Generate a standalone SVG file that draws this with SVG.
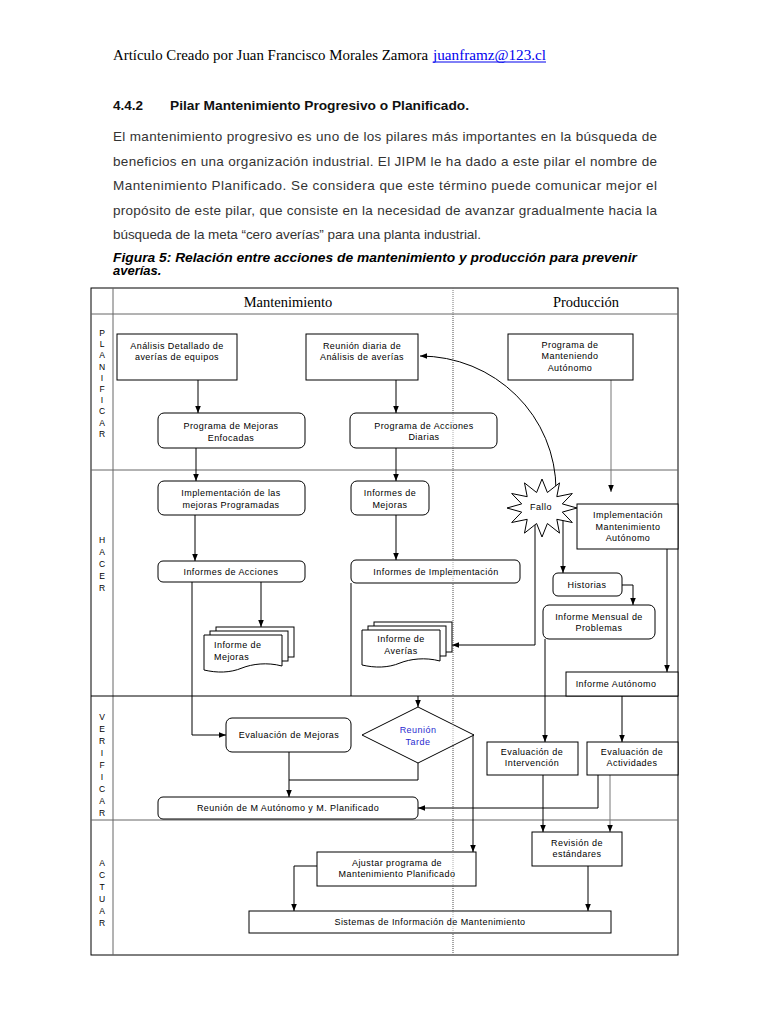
<svg xmlns="http://www.w3.org/2000/svg" width="768" height="1024" viewBox="0 0 768 1024">
<style>
.hdr{font-family:"Liberation Serif","Times New Roman",serif;font-size:15px;fill:#000}
.link{font-family:"Liberation Serif","Times New Roman",serif;font-size:15px;fill:#0000ee}
.para{font-family:"Liberation Sans",Arial,sans-serif;font-size:13.5px;fill:#333}
.h2{font-family:"Liberation Sans",Arial,sans-serif;font-size:13.5px;font-weight:bold;fill:#111}
.fig{font-family:"Liberation Sans",Arial,sans-serif;font-size:13px;font-weight:bold;font-style:italic;fill:#000}
.lane{font-family:"Liberation Serif","Times New Roman",serif;font-size:14.5px;fill:#000;text-anchor:middle}
.side{font-family:"Liberation Sans",Arial,sans-serif;font-size:8.5px;fill:#000;text-anchor:middle}
.t{font-family:"Liberation Sans",Arial,sans-serif;font-size:9px;letter-spacing:0.45px;fill:#000;text-anchor:middle}
.tl{font-family:"Liberation Sans",Arial,sans-serif;font-size:9px;letter-spacing:0.45px;fill:#000}
.blue{fill:#2a2ad0}
.box{fill:#fff;stroke:#000;stroke-width:1}
.grid{fill:none;stroke:#000;stroke-width:1}
.grid2{fill:none;stroke:#666;stroke-width:1}
.dot{fill:none;stroke:#777;stroke-width:1;stroke-dasharray:1,1}
.c{fill:none;stroke:#000;stroke-width:1}
.ca{fill:none;stroke:#000;stroke-width:1;marker-end:url(#ah)}
.cg{fill:none;stroke:#777;stroke-width:1;marker-end:url(#ah)}
</style>
<defs>
<marker id="ah" viewBox="0 0 10 10" refX="10" refY="5" markerWidth="7" markerHeight="7" orient="auto" markerUnits="userSpaceOnUse">
<path d="M0,1 L10,5 L0,9 z" fill="#000"/>
</marker>
</defs>
<rect width="768" height="1024" fill="#fff"/>

<g id="page-text">
<text class="hdr" x="113" y="60" textLength="315" lengthAdjust="spacingAndGlyphs">Artículo Creado por Juan Francisco Morales Zamora</text>
<text class="link" x="433" y="60" textLength="113" lengthAdjust="spacingAndGlyphs">juanframz@123.cl</text>
<line x1="433" y1="62" x2="546" y2="62" stroke="#0000ee" stroke-width="1"/>
<text class="h2" x="113" y="110">4.4.2</text>
<text class="h2" x="170" y="110" textLength="299" lengthAdjust="spacingAndGlyphs">Pilar Mantenimiento Progresivo o Planificado.</text>
<text class="para" x="113" y="141" textLength="544" lengthAdjust="spacing">El mantenimiento progresivo es uno de los pilares más importantes en la búsqueda de</text>
<text class="para" x="113" y="166" textLength="544" lengthAdjust="spacing">beneficios en una organización industrial. El JIPM le ha dado a este pilar el nombre de</text>
<text class="para" x="113" y="190" textLength="544" lengthAdjust="spacing">Mantenimiento Planificado. Se considera que este término puede comunicar mejor el</text>
<text class="para" x="113" y="215" textLength="544" lengthAdjust="spacing">propósito de este pilar, que consiste en la necesidad de avanzar gradualmente hacia la</text>
<text class="para" x="113" y="239" textLength="368" lengthAdjust="spacing">búsqueda de la meta “cero averías” para una planta industrial.</text>
<text class="fig" x="113" y="262" textLength="524" lengthAdjust="spacingAndGlyphs">Figura 5: Relación entre acciones de mantenimiento y producción para prevenir</text>
<text class="fig" x="113" y="275">averías.</text>
</g>

<g id="lanes">
<rect class="grid" x="91" y="288" width="587" height="667"/>
<line class="grid2" x1="113" y1="288" x2="113" y2="955"/>
<line class="grid2" x1="91" y1="314" x2="678" y2="314"/>
<line class="grid2" x1="91" y1="470" x2="678" y2="470"/>
<line class="grid" x1="91" y1="696" x2="678" y2="696"/>
<line class="grid2" x1="91" y1="820" x2="678" y2="820"/>
<line class="dot" x1="453" y1="288" x2="453" y2="955"/>
<text class="lane" x="288" y="307">Mantenimiento</text>
<text class="lane" x="586" y="307">Producción</text>
<text class="side"><tspan x="102" y="336">P</tspan><tspan x="102" dy="11.2">L</tspan><tspan x="102" dy="11.2">A</tspan><tspan x="102" dy="11.2">N</tspan><tspan x="102" dy="11.2">I</tspan><tspan x="102" dy="11.2">F</tspan><tspan x="102" dy="11.2">I</tspan><tspan x="102" dy="11.2">C</tspan><tspan x="102" dy="11.2">A</tspan><tspan x="102" dy="11.2">R</tspan></text>
<text class="side"><tspan x="102" y="543">H</tspan><tspan x="102" dy="12">A</tspan><tspan x="102" dy="12">C</tspan><tspan x="102" dy="12">E</tspan><tspan x="102" dy="12">R</tspan></text>
<text class="side"><tspan x="102" y="720">V</tspan><tspan x="102" dy="12">E</tspan><tspan x="102" dy="12">R</tspan><tspan x="102" dy="12">I</tspan><tspan x="102" dy="12">F</tspan><tspan x="102" dy="12">I</tspan><tspan x="102" dy="12">C</tspan><tspan x="102" dy="12">A</tspan><tspan x="102" dy="12">R</tspan></text>
<text class="side"><tspan x="102" y="866">A</tspan><tspan x="102" dy="12">C</tspan><tspan x="102" dy="12">T</tspan><tspan x="102" dy="12">U</tspan><tspan x="102" dy="12">A</tspan><tspan x="102" dy="12">R</tspan></text>
</g>

<g id="connectors">
<path class="ca" d="M198,380 V413"/>
<path class="ca" d="M396,380 V413"/>
<path class="cg" d="M611,380 V492"/>
<path class="ca" d="M556,490 A136,134 0 0 0 420,356"/>
<path class="ca" d="M196,448 V481"/>
<path class="ca" d="M396,448 V481"/>
<path class="ca" d="M195,515 V561"/>
<path class="ca" d="M396,515 V560"/>
<path class="ca" d="M261,582 V627"/>
<path class="ca" d="M192,582 V735 H226"/>
<path class="c" d="M351,583 V696"/>
<path class="ca" d="M418,696 V707"/>
<path class="ca" d="M535,525 V645 H452"/>
<path class="ca" d="M563,518 V573"/>
<path class="ca" d="M622,585 H633 V605"/>
<path class="ca" d="M667,549 V672"/>
<path class="ca" d="M545,639 V742"/>
<path class="ca" d="M622,696 V742"/>
<path class="ca" d="M289,752 V797"/>
<path class="c" d="M418,763 V780 H289"/>
<path class="ca" d="M598,775 V808 H418"/>
<path class="ca" d="M474,735 H473 V852"/>
<path class="ca" d="M543,775 V832"/>
<path class="cg" d="M610,775 V832"/>
<path class="ca" d="M317,866 H294 V911"/>
<path class="ca" d="M588,866 V911"/>
</g>

<g id="n-analisis">
<rect class="box" x="117" y="334" width="120" height="46"/>
<text class="t" x="177" y="349">Análisis Detallado de</text>
<text class="t" x="177" y="360">averías de equipos</text>
</g>
<g id="n-reunion-diaria">
<rect class="box" x="306" y="334" width="112" height="46"/>
<text class="t" x="362" y="349">Reunión diaria de</text>
<text class="t" x="362" y="360">Análisis de averías</text>
</g>
<g id="n-programa-ma">
<rect class="box" x="508" y="334" width="125" height="46"/>
<text class="t" x="570" y="348">Programa de</text>
<text class="t" x="570" y="359">Manteniendo</text>
<text class="t" x="570" y="371">Autónomo</text>
</g>
<g id="n-mejoras-enfocadas">
<rect class="box" x="158" y="413" width="147" height="35" rx="6"/>
<text class="t" x="231" y="429">Programa de Mejoras</text>
<text class="t" x="231" y="441">Enfocadas</text>
</g>
<g id="n-acciones-diarias">
<rect class="box" x="350" y="413" width="147" height="35" rx="6"/>
<text class="t" x="424" y="429">Programa de Acciones</text>
<text class="t" x="424" y="440">Diarias</text>
</g>
<g id="n-implementacion">
<rect class="box" x="158" y="481" width="147" height="34" rx="6"/>
<text class="t" x="231" y="496">Implementación de las</text>
<text class="t" x="231" y="508">mejoras Programadas</text>
</g>
<g id="n-informes-mejoras">
<rect class="box" x="351" y="481" width="78" height="34" rx="6"/>
<text class="t" x="390" y="496">Informes de</text>
<text class="t" x="390" y="508">Mejoras</text>
</g>
<g id="n-informes-acciones">
<rect class="box" x="158" y="561" width="147" height="21" rx="5"/>
<text class="t" x="231" y="575">Informes de Acciones</text>
</g>
<g id="n-informes-implementacion">
<rect class="box" x="351" y="560" width="169" height="23" rx="5"/>
<text class="t" x="436" y="575">Informes de Implementación</text>
</g>
<g id="n-doc-mejoras">
<rect class="box" x="216" y="627" width="78" height="30"/>
<rect class="box" x="210" y="631" width="78" height="30"/>
<path class="box" d="M204,635 H282 V666 C267,662 252,664 242,668 C230,673 217,673 204,670 Z"/>
<text class="tl" x="214" y="648">Informe de</text>
<text class="tl" x="214" y="660">Mejoras</text>
</g>
<g id="n-doc-averias">
<rect class="box" x="374" y="622" width="78" height="30"/>
<rect class="box" x="368" y="626" width="78" height="30"/>
<path class="box" d="M362,630 H440 V661 C425,657 410,659 400,663 C388,668 375,668 362,665 Z"/>
<text class="t" x="401" y="642">Informe de</text>
<text class="t" x="401" y="654">Averías</text>
</g>
<g id="n-fallo">
<polygon class="box" points="542,479 547.4,492.5 559.5,482.9 556.8,496.7 572.3,493.5 562.3,503.9 577,508 562.3,512.1 572.3,522.5 556.8,519.3 559.5,533.1 547.4,523.5 542,537 536.6,523.5 524.5,533.1 527.2,519.3 511.7,522.5 521.7,512.1 507,508 521.7,503.9 511.7,493.5 527.2,496.7 524.5,482.9 536.6,492.5"/>
<text class="t" x="541" y="510">Fallo</text>
</g>
<g id="n-impl-ma">
<rect class="box" x="577" y="504" width="101" height="45"/>
<text class="t" x="628" y="518">Implementación</text>
<text class="t" x="628" y="530">Mantenimiento</text>
<text class="t" x="628" y="541">Autónomo</text>
</g>
<g id="n-historias">
<rect class="box" x="553" y="573" width="69" height="23" rx="5"/>
<text class="t" x="587" y="588">Historias</text>
</g>
<g id="n-informe-mensual">
<rect class="box" x="543" y="605" width="112" height="34" rx="6"/>
<text class="t" x="599" y="620">Informe Mensual de</text>
<text class="t" x="599" y="631">Problemas</text>
</g>
<g id="n-informe-autonomo">
<rect class="box" x="566" y="672" width="112" height="24"/>
<text class="t" x="616" y="687">Informe Autónomo</text>
</g>
<g id="n-evaluacion-mejoras">
<rect class="box" x="226" y="718" width="125" height="34" rx="6"/>
<text class="t" x="289" y="738">Evaluación de Mejoras</text>
</g>
<g id="n-reunion-tarde">
<polygon class="box" points="418,707 474,735 418,763 362,735"/>
<text class="t blue" x="418" y="733">Reunión</text>
<text class="t blue" x="418" y="745">Tarde</text>
</g>
<g id="n-reunion-m">
<rect class="box" x="158" y="797" width="260" height="22" rx="5"/>
<text class="t" x="288" y="811">Reunión de M Autónomo y M. Planificado</text>
</g>
<g id="n-eval-intervencion">
<rect class="box" x="487" y="742" width="91" height="33"/>
<text class="t" x="532" y="755">Evaluación de</text>
<text class="t" x="532" y="766">Intervención</text>
</g>
<g id="n-eval-actividades">
<rect class="box" x="587" y="742" width="91" height="33"/>
<text class="t" x="632" y="755">Evaluación de</text>
<text class="t" x="632" y="766">Actividades</text>
</g>
<g id="n-revision">
<rect class="box" x="532" y="832" width="90" height="34"/>
<text class="t" x="577" y="846">Revisión de</text>
<text class="t" x="577" y="857">estándares</text>
</g>
<g id="n-ajustar">
<rect class="box" x="317" y="852" width="159" height="34"/>
<text class="t" x="397" y="866">Ajustar programa de</text>
<text class="t" x="397" y="877">Mantenimiento Planificado</text>
</g>
<g id="n-sistemas">
<rect class="box" x="249" y="911" width="362" height="22"/>
<text class="t" x="430" y="925">Sistemas de Información de Mantenimiento</text>
</g>
<line class="dot" x1="453" y1="314" x2="453" y2="955" opacity="0.6"/>
</svg>
